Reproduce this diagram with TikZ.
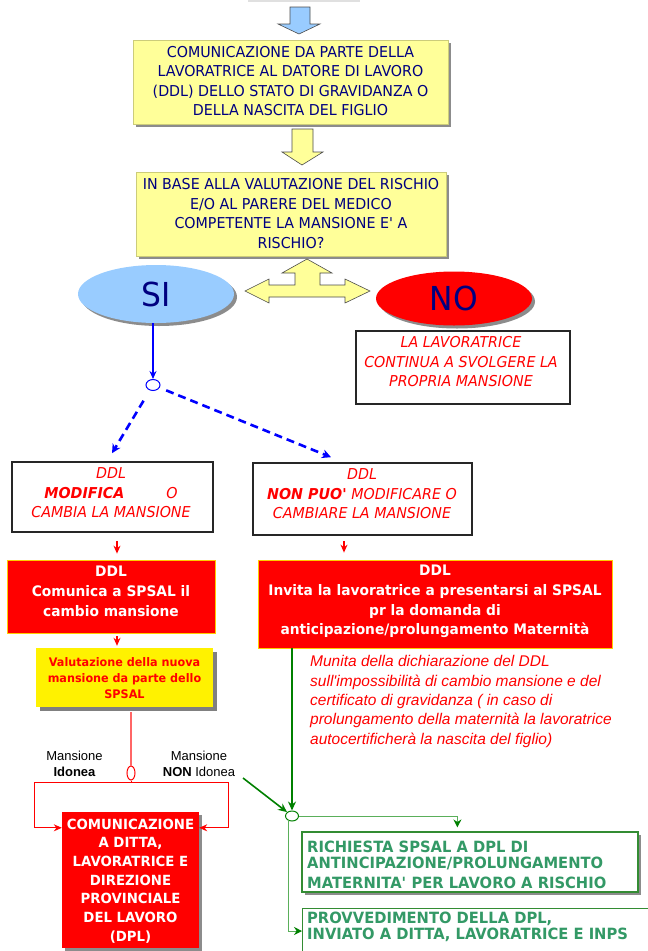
\documentclass[tikz,border=0pt]{standalone}
\usepackage{fontspec}
\setmainfont{DejaVu Sans}[FakeStretch=0.95]
\newfontfamily\arialf{Liberation Sans}
\usetikzlibrary{arrows.meta,shapes.geometric,shadows,calc}
\definecolor{navy}{RGB}{0,0,128}
\definecolor{paleyel}{RGB}{255,255,153}
\definecolor{skyb}{RGB}{153,204,255}
\definecolor{shadowgray}{RGB}{140,140,140}
\definecolor{dkgreen}{RGB}{0,128,0}
\definecolor{boxgreen}{RGB}{51,153,102}
\definecolor{edgegreen}{RGB}{51,140,51}
\definecolor{thingreen}{RGB}{90,175,90}
\definecolor{goldedge}{RGB}{255,204,0}
\newcommand\fs[2]{\fontsize{#1}{#2}\selectfont}
\begin{document}
\begin{tikzpicture}[x=1pt,y=-1pt,
  shadowed/.style={drop shadow={shadow xshift=3pt,shadow yshift=-3pt,fill=shadowgray,opacity=1}},
  ybox/.style={rectangle,fill=paleyel,draw=paleyel!80!black,line width=0.4,inner sep=0,shadowed},
  ytext/.style={text=navy,font=\fs{15}{19.4},align=center,inner sep=0},
  blkbox/.style={rectangle,draw=black!85,line width=1.6,fill=white,inner sep=0},
  ritext/.style={text=red,font=\itshape\fs{15}{19.5},align=center,inner sep=0},
  redbox/.style={rectangle,fill=red,draw=goldedge,line width=0.8,inner sep=0},
  whitetext/.style={text=white,font=\bfseries\fs{14.5}{19.7},align=center,inner sep=0},
  blockarrow/.style={draw=black!70,line width=0.6},
  redarrow/.style={red,line width=1.2,-{Stealth[length=8pt,width=7pt]}},
  redline/.style={red,line width=1},
  bdash/.style={blue,line width=2.6,dash pattern=on 8pt off 5pt,-{Stealth[length=9pt,width=9pt]}},
  garrow/.style={dkgreen,line width=1.6,-{Stealth[length=9pt,width=8pt]}},
  gthin/.style={thingreen,line width=1,-{Stealth[length=8pt,width=8pt,color=dkgreen]}},
  gbox/.style={rectangle,draw=edgegreen,line width=1.2,fill=white,inner sep=0},
  gtext/.style={text=boxgreen,font=\bfseries\fs{15.5}{16},align=left,inner sep=0},
  lbl/.style={font=\arialf\fs{13}{16},align=center,inner sep=0},
  junction/.style={ellipse,fill=white,inner sep=0,line width=1}]
\useasboundingbox (0,0) rectangle (648,951);

% remains of the previous step and the first block arrow
\draw[black!12,line width=2] (248,1) -- (360,1);
\draw[blockarrow,fill=skyb] (290,7) -- (310,7) -- (310,24) -- (320,24) -- (299,34) -- (278,24) -- (290,24) -- cycle;

% announcement of pregnancy
\node[ybox,minimum width=315,minimum height=84] (comm) at (290.5,82) {};
\node[ytext] (commt) at (290.5,81) {COMUNICAZIONE DA PARTE DELLA\\LAVORATRICE AL DATORE DI LAVORO\\(DDL) DELLO STATO DI GRAVIDANZA O\\DELLA NASCITA DEL FIGLIO};

\draw[blockarrow,fill=paleyel] (292,129) -- (313,129) -- (313,152) -- (323,152) -- (302,165) -- (282,152) -- (292,152) -- cycle;

% risk question
\node[ybox,minimum width=310,minimum height=84] (risk) at (291,214) {};
\node[ytext] (riskt) at (291,213.5) {IN BASE ALLA VALUTAZIONE DEL RISCHIO\\E/O AL PARERE DEL MEDICO\\COMPETENTE LA MANSIONE E\textquotesingle{} A\\RISCHIO?};

% three-way block arrow
\draw[blockarrow,fill=paleyel] (245,291) -- (269,279) -- (269,285) -- (295,285) -- (295,273) -- (282,273) -- (307,259) -- (332,273) -- (320,273) -- (320,285) -- (345,285) -- (345,279) -- (370,291) -- (345,303) -- (345,297) -- (269,297) -- (269,303) -- cycle;

% answers
\node[ellipse,fill=skyb,minimum width=156,minimum height=58,inner sep=0,shadowed,text=navy,font=\fs{33}{33}] (si) at (156,294) {SI};
\node[ellipse,fill=red,minimum width=156,minimum height=54,inner sep=0,shadowed,text=navy,font=\fs{33}{33}] (no) at (454,298.5) {NO};

\node[blkbox,minimum width=214,minimum height=73] (nobox) at (463,367.5) {};
\node[ritext] (noboxt) at (461,362) {LA LAVORATRICE\\CONTINUA A SVOLGERE LA\\PROPRIA MANSIONE};

% branch of the YES answer
\node[junction,draw=blue,minimum width=14,minimum height=11] (sij) at (153,385) {};
\draw[blue,line width=1.5,-{Stealth[length=8pt,width=7pt]}] (si.south -| sij) -- (sij.north);

\node[blkbox,minimum width=201,minimum height=70] (ddl1) at (112.5,497) {};
\node[ritext] (ddl1t) at (111,493) {DDL\\\textbf{MODIFICA}\hspace{42pt}O\\CAMBIA LA MANSIONE};
\node[blkbox,minimum width=219,minimum height=72] (ddl2) at (362.5,499) {};
\node[ritext] (ddl2t) at (362,494) {DDL\\\textbf{NON PUO\textquotesingle}{} MODIFICARE O\\CAMBIARE LA MANSIONE};

\draw[bdash,shorten <=12pt] (sij) -- ([xshift=-0.5pt,yshift=8pt]ddl1.north);
\draw[bdash,shorten <=7pt] (sij) -- ($(ddl2.north)+(-31.5,-5)$);

% employer actions
\node[redbox,minimum width=208,minimum height=73] (red1) at (111,596.5) {};
\node[whitetext] (red1t) at (111,591.5) {DDL\\Comunica a SPSAL il\\cambio mansione};
\node[redbox,minimum width=354,minimum height=88] (red2) at (435,604) {};
\node[whitetext] (red2t) at (435,601.5) {DDL\\Invita la lavoratrice a presentarsi al SPSAL\\pr la domanda di\\anticipazione/prolungamento Maternità};

\draw[redarrow] ([xshift=4.5pt,yshift=-8pt]ddl1.south) -- ([xshift=6pt,yshift=6pt]red1.north);
\draw[redarrow] ([xshift=-18.5pt,yshift=-5pt]ddl2.south) -- ([xshift=-91pt,yshift=7pt]red2.north);

% evaluation by SPSAL
\node[rectangle,fill=yellow,inner sep=0,minimum width=177,minimum height=59,drop shadow={shadow xshift=4pt,shadow yshift=-4pt,fill=black!50,opacity=1}] (val) at (124.5,677.5) {};
\node[text=red,font=\bfseries\fs{11.8}{16},align=center,inner sep=0] (valt) at (124.5,678) {Valutazione della nuova\\mansione da parte dello\\SPSAL};
\draw[redarrow] ([xshift=6pt,yshift=-3pt]red1.south) -- ([xshift=-7.5pt,yshift=2pt]val.north);

\node[text=red,font=\arialf\itshape\fs{15.5}{19.3},align=left,inner sep=0,anchor=north west] (munita) at (310,655.5) {Munita della dichiarazione del DDL\\sull\textquotesingle impossibilità di cambio mansione e del\\certificato di gravidanza ( in caso di\\prolungamento della maternità la lavoratrice\\autocertificherà la nascita del figlio)};

% outcome of the evaluation
\node[junction,draw=red,minimum width=8,minimum height=14] (vj) at (131,773) {};
\draw[red!60,line width=1.2] ([yshift=-5pt]val.south -| vj) -- (vj.north);
\coordinate (hl) at (34,782);
\coordinate (hr) at (228,782);
\draw[redline] (hl) -- (hr);
\draw[redline] (vj.south) -- (vj.south |- hl);

\node[lbl] (idl) at (74.5,764) {Mansione\\\textbf{Idonea}};
\node[lbl] (nonid) at (199,764) {Mansione\\\textbf{NON} Idonea};

\node[rectangle,fill=red,inner sep=0,minimum width=137,minimum height=136,shadowed] (dpl) at (130.5,880) {};
\node[text=white,font=\bfseries\fs{14}{18.7},align=center,inner sep=0] (dplt) at (130.5,881) {COMUNICAZIONE\\A DITTA,\\LAVORATRICE E\\DIREZIONE\\PROVINCIALE\\DEL LAVORO\\(DPL)};

\draw[redarrow,line width=1] (hl) |- ([yshift=-16pt]dpl.north west);
\draw[redarrow,line width=1] (hr) |- ([yshift=-16pt]dpl.north east);

% maternity leave path
\node[junction,draw=dkgreen,minimum width=13,minimum height=10] (gj) at (292,816) {};
\draw[garrow] (red2.south -| gj) -- (gj.north);
\coordinate (gstart) at (243,778);
\draw[garrow] (gstart) -- (gj.north west);

\node[gbox,minimum width=336,minimum height=60,shadowed] (gb1) at (470,862) {};
\node[gtext,anchor=north west] (gb1t) at (307,841) {RICHIESTA SPSAL A DPL DI\\ANTINCIPAZIONE/PROLUNGAMENTO\\[4pt]MATERNITA\textquotesingle{} PER LAVORO A RISCHIO};
\node[gbox,minimum width=380,minimum height=70,anchor=north west] (gb2) at (302,908) {};
\node[gtext,anchor=north west] (gb2t) at (307,912) {PROVVEDIMENTO DELLA DPL,\\INVIATO A DITTA, LAVORATRICE E INPS};

\draw[gthin] (gj.east) -| ($(gb1.north west)+(156,-4)$);
\draw[gthin] ($(gj.south west)+(1,0)$) |- ([yshift=-23pt]gb2.north west);
\end{tikzpicture}
\end{document}
